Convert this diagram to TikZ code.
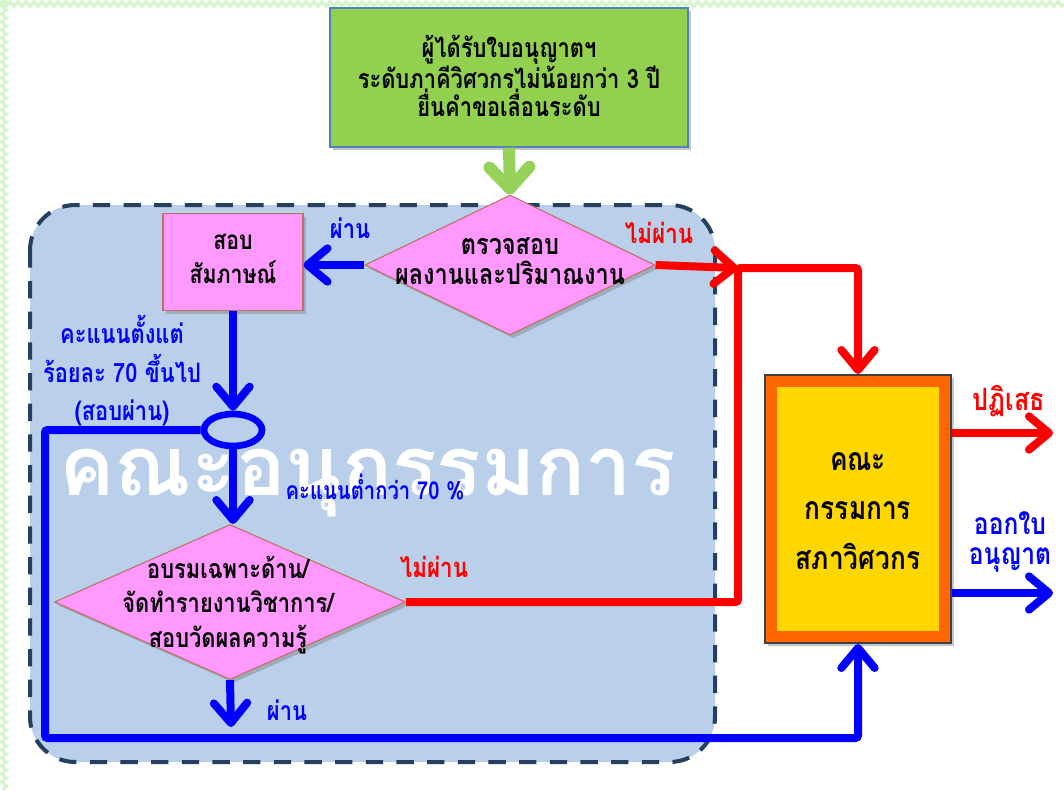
\documentclass[tikz,border=0pt]{standalone}
\usepackage{fontspec}
\newfontfamily\thaifont[Script=Thai,FakeStretch=0.82]{Loma}
\newfontfamily\thaiwm[Script=Thai]{Loma}
\usetikzlibrary{shapes.geometric,arrows.meta,shadows,decorations.pathmorphing}

\definecolor{leafgreen}{RGB}{146,208,80}
\definecolor{arrowgreen}{RGB}{150,210,90}
\definecolor{edgeblue}{RGB}{79,129,189}
\definecolor{pinkfill}{RGB}{255,153,255}
\definecolor{pinkedge}{RGB}{192,110,100}
\definecolor{zonefill}{RGB}{185,207,234}
\definecolor{zoneedge}{RGB}{36,63,96}
\definecolor{councilgold}{RGB}{255,215,0}
\definecolor{councilorange}{RGB}{255,102,0}
\definecolor{paleborder}{RGB}{215,245,205}

\newcommand{\thsize}[2]{\thaifont\bfseries\fontsize{#1}{#2}\selectfont}

\tikzset{
  thai/.style={font=\thsize{20}{22}, align=center, inner sep=0pt},
  shade/.style={drop shadow={shadow xshift=2.5pt, shadow yshift=-2.5pt, opacity=0.45}},
  pinkbox/.style={rectangle, fill=pinkfill, draw=pinkedge, line width=0.8pt, shade},
  pinkdia/.style={diamond, fill=pinkfill, draw=pinkedge, line width=0.8pt, inner sep=0pt, shade},
  bline/.style={blue, line width=6pt, rounded corners=2pt},
  rline/.style={red, line width=6pt, rounded corners=2pt},
  tip/.style={-{Straight Barb[length=15pt, width=25pt, round]}},
}

\begin{document}
\begin{tikzpicture}[x=0.75pt, y=-0.75pt]
	\useasboundingbox (0,0) rectangle (1064,790);
	\fill[white] (0,0) rectangle (1064,790);
	% pale frame
	\draw[paleborder, line width=2.5pt, decorate, decoration={zigzag, segment length=6pt, amplitude=1.8pt}] (0,4) -- (1064,4);
	\draw[paleborder, line width=2.5pt, decorate, decoration={zigzag, segment length=6pt, amplitude=1.8pt}] (4,0) -- (4,790);

	% sub-committee zone
	\draw[zoneedge, fill=zonefill, line width=3pt, dash pattern=on 13pt off 10pt, rounded corners=34pt] (30,205) rectangle (715,762);
	\node (wm) [white, font=\thaiwm\bfseries\fontsize{62}{62}\selectfont, inner sep=0pt] at (368,483) {คณะอนุกรรมการ};

	\node (top) [rectangle, fill=leafgreen, draw=edgeblue, line width=1pt, shade, minimum width=268.5pt, minimum height=104.25pt] at (509,77.5) {};
	\node (chk) [pinkdia, minimum width=217.5pt, minimum height=105pt] at (510,265) {};
	\node (oral) [pinkbox, minimum width=105pt, minimum height=72.75pt] at (233,262) {};
	\node (ring) [ellipse, draw=blue, line width=5pt, minimum width=43.5pt, minimum height=24pt, inner sep=0pt] at (233,430) {};
	\node (trn) [pinkdia, minimum width=263.25pt, minimum height=116.25pt] at (230,602) {};
	\node (sv) [rectangle, fill=councilorange, draw=black!75, line width=1.5pt, shade, minimum width=139.5pt, minimum height=201pt,
		path picture={\fill[councilgold] ([shift={(9pt,9pt)}]path picture bounding box.south west) rectangle ([shift={(-9pt,-9pt)}]path picture bounding box.north east);}] at (858,509) {};

	\coordinate (rc) at (738,268);
	\coordinate (bc) at (45,738);
	\coordinate (pc) at (231,727);
	\coordinate (rej) at (1053,433);
	\coordinate (lic) at (1053,593);

	% connectors
	\draw [arrowgreen, line width=9pt, -{Straight Barb[length=16pt, width=30pt, round]}] (top.south) -- (chk.north);
	\draw [bline, tip] (chk.west) -- (chk.west -| oral.east);
	\draw [rline, tip] (chk.east) -- (rc);
	\draw [rline, tip] (trn.east) -| (rc) -| (sv.north);
	\draw [bline, tip] (oral.south) -- (ring.north);
	\draw [bline, tip] (ring.south) -- (ring.south |- trn.north);
	\draw [bline, tip] (ring.west) -| (bc) -| (sv.south);
	\draw [bline, tip] (trn.south) -- (pc);
	\draw [rline, tip] (sv.east |- rej) -- (rej);
	\draw [bline, tip] (sv.east |- lic) -- (lic);

	% texts
	\node (T1) [thai, font=\thsize{20}{21}] at (509,76) {ผู้ได้รับใบอนุญาตฯ\\ระดับภาคีวิศวกรไม่น้อยกว่า 3 ปี\\ยื่นคำขอเลื่อนระดับ};
	\node (T2) [thai, font=\thsize{21.5}{22.5}] at (510,261) {ตรวจสอบ\\ผลงานและปริมาณงาน};
	\node (T3) [thai, font=\thsize{19.5}{26}] at (233,259) {สอบ\\สัมภาษณ์};
	\node (T4) [thai, font=\thsize{20}{26}] at (228,605) {อบรมเฉพาะด้าน/\\จัดทำรายงานวิชาการ/\\สอบวัดผลความรู้};
	\node (T5) [thai, font=\thsize{24}{37}] at (858,511) {คณะ\\กรรมการ\\สภาวิศวกร};
	\node (L1) [thai, blue] at (350,228) {ผ่าน};
	\node (L2) [thai, red, font=\thsize{20.5}{22}] at (659,233) {ไม่ผ่าน};
	\node (L3) [thai, blue, font=\thsize{20}{29}] at (122,371) {คะแนนตั้งแต่\\ร้อยละ 70 ขึ้นไป\\(สอบผ่าน)};
	\node (L4) [thai, blue, font=\thsize{18.5}{20}] at (375,487) {คะแนนต่ำกว่า 70 \%};
	\node (L5) [thai, red, font=\thsize{20.5}{22}] at (434,567) {ไม่ผ่าน};
	\node (L6) [thai, blue] at (287,710) {ผ่าน};
	\node (L7) [thai, red, font=\thsize{23}{24}] at (1009,401) {ปฏิเสธ};
	\node (L8) [thai, blue, font=\thsize{22.5}{22}] at (1010,542) {ออกใบ\\อนุญาต};
\end{tikzpicture}
\end{document}
